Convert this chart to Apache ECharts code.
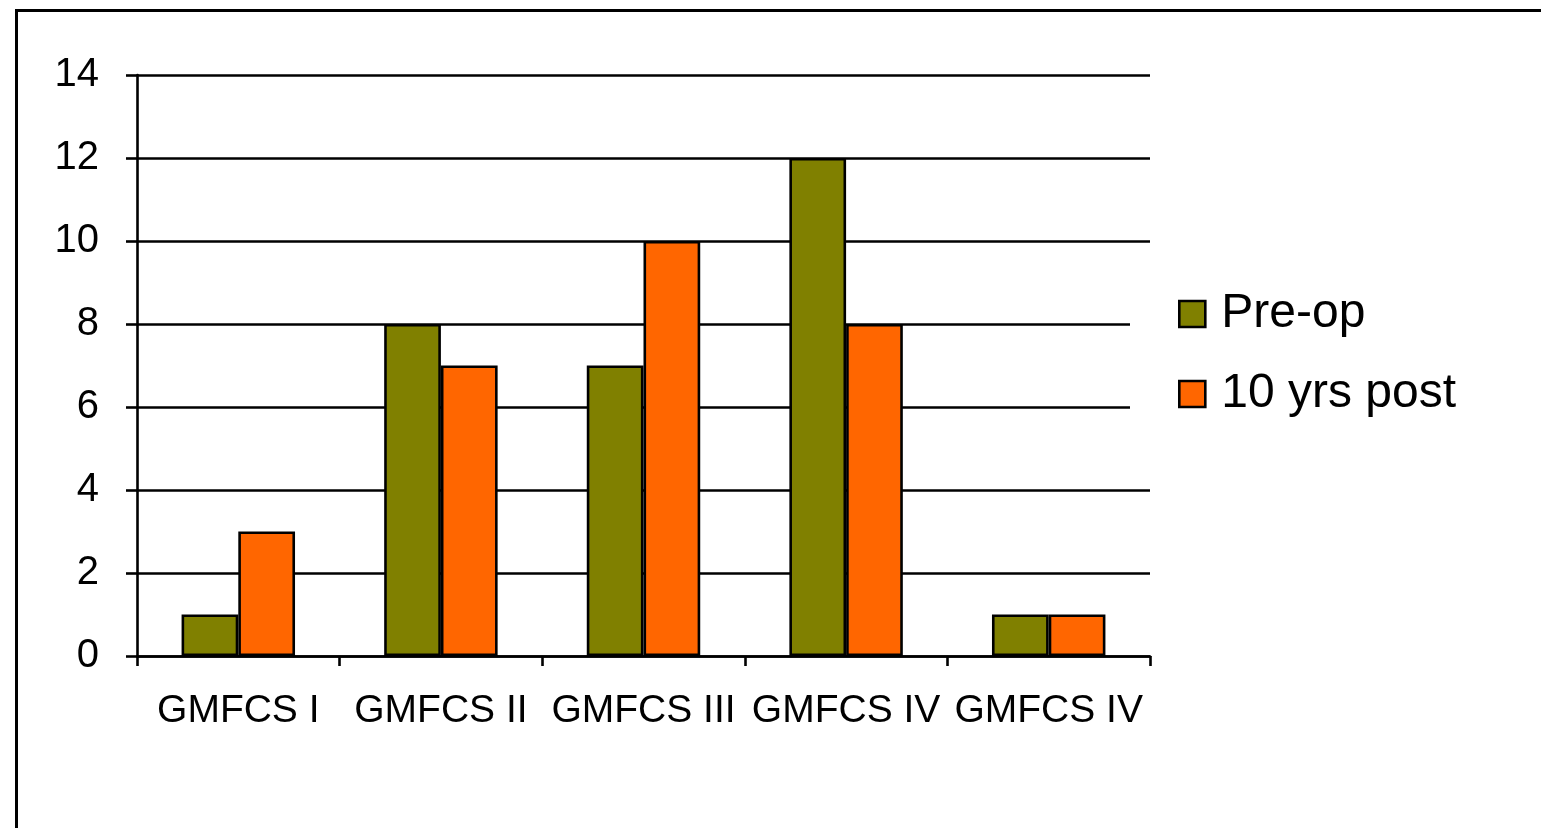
<!DOCTYPE html>
<html>
<head>
<meta charset="utf-8">
<style>
  html, body { margin: 0; padding: 0; background: #fff; }
  #chart { width: 1541px; height: 828px; }
</style>
<script src="https://cdn.jsdelivr.net/npm/echarts@6/dist/echarts.min.js"></script>
</head>
<body>
<div id="chart"></div>
<script>
// GMFCS level counts, before surgery and ten years after
const categories = ['GMFCS I', 'GMFCS II', 'GMFCS III', 'GMFCS IV', 'GMFCS IV'];
const preOp = [1, 8, 7, 12, 1];
const tenYrsPost = [3, 7, 10, 8, 1];
const seriesNames = ['Pre-op', '10 yrs post'];

const font = '"Liberation Sans", Arial, sans-serif';
const lineW = 2.6;
const chart = echarts.init(document.getElementById('chart'), null, { renderer: 'canvas' });

chart.setOption({
  backgroundColor: '#ffffff',
  animation: false,
  graphic: [{
    type: 'rect',
    left: 14, top: 8,
    shape: { width: 1700, height: 1000 },
    style: { fill: 'none', stroke: '#000', lineWidth: 3 },
    silent: true, z: 0
  }],
  grid: { left: 137, right: 391, top: 75, bottom: 172, containLabel: false },
  legend: {
    orient: 'vertical',
    left: 1130, top: 270,
    padding: [20, 20, 20, 48],
    backgroundColor: '#ffffff',
    itemWidth: 26, itemHeight: 26,
    itemGap: 32,
    icon: 'rect',
    itemStyle: { borderColor: '#000', borderWidth: lineW },
    textStyle: { fontFamily: font, fontSize: 48, color: '#000', lineHeight: 48, padding: [0, 0, 0, 11] },
    data: seriesNames,
    z: 5
  },
  xAxis: {
    type: 'category',
    data: categories,
    axisLine: { show: true, lineStyle: { color: '#000', width: lineW } },
    axisTick: { show: true, length: 10, lineStyle: { color: '#000', width: lineW } },
    axisLabel: { fontFamily: font, fontSize: 39, color: '#000', margin: 36, interval: 0 },
    splitLine: { show: false }
  },
  yAxis: {
    type: 'value',
    min: 0, max: 14, interval: 2,
    axisLine: { show: true, lineStyle: { color: '#000', width: lineW } },
    axisTick: { show: true, length: 11, lineStyle: { color: '#000', width: lineW } },
    axisLabel: { fontFamily: font, fontSize: 40, color: '#000', margin: 38, lineHeight: 40, padding: [8, 0, 0, 0] },
    splitLine: { show: true, lineStyle: { color: '#000', width: lineW } }
  },
  series: [
    {
      name: seriesNames[0], type: 'bar', data: preOp,
      barGap: '0%', barCategoryGap: '44%',
      itemStyle: { color: '#808000', borderColor: '#000', borderWidth: lineW }
    },
    {
      name: seriesNames[1], type: 'bar', data: tenYrsPost,
      barGap: '0%', barCategoryGap: '44%',
      itemStyle: { color: '#FF6600', borderColor: '#000', borderWidth: lineW }
    }
  ]
});
</script>
</body>
</html>
